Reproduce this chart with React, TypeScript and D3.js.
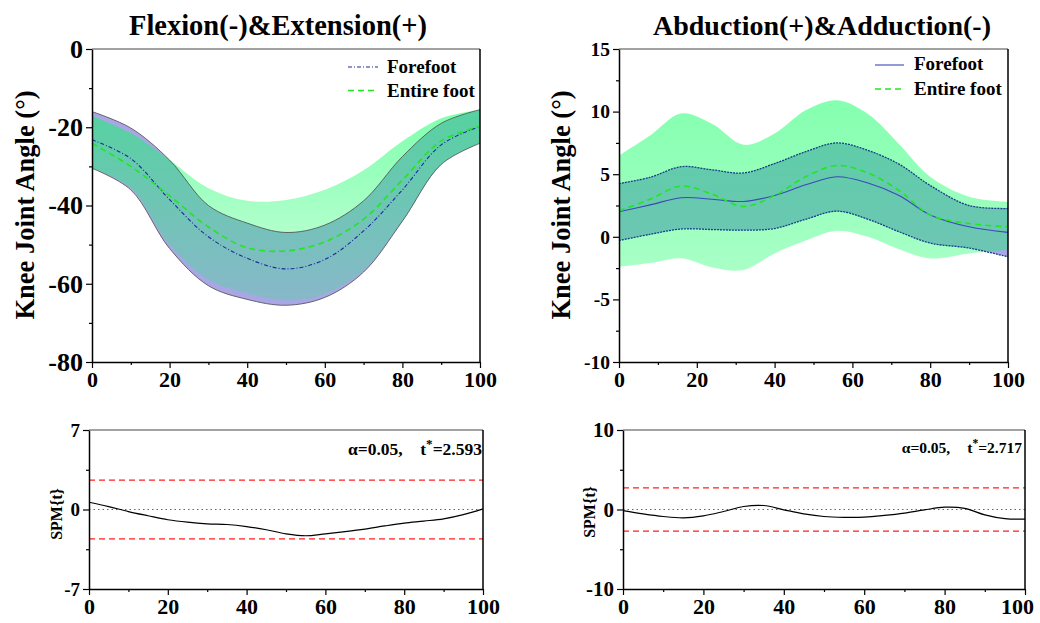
import { useEffect, useRef } from 'react';
import * as d3 from 'd3';

const FONT = '"Liberation Serif", "Times New Roman", serif';

// Flexion / extension (top left), % gait cycle
const flexT = [0, 10, 20, 30, 40, 50, 60, 70, 80, 90, 100];
const flexForeMean = [-23.2, -28, -38.5, -48, -53.5, -56.2, -53.8, -46.5, -36, -24.5, -19.8];
const flexForeUpper = [-16, -20.2, -28.4, -40, -44.5, -46.9, -45, -38.8, -27.5, -19, -15.5];
const flexForeLower = [-30.5, -36, -51, -60.5, -64, -65.5, -63.5, -57, -44, -29.5, -24.1];
const flexEntireMean = [-24.1, -30, -37.5, -45.5, -50.8, -51.6, -49.3, -43.5, -33.5, -23.5, -19.8];
const flexEntireUpper = [-17.1, -21.5, -28.4, -35.6, -38.8, -38.6, -36, -31, -23.6, -17.7, -15.5];
const flexEntireLower = [-30.5, -35.5, -50, -59, -62.5, -64.3, -62.7, -56.5, -44, -29.5, -24.1];

// Abduction / adduction (top right)
const abdT = [0, 8, 16, 24, 32, 40, 48, 56, 64, 72, 80, 90, 100];
const abdForeMean = [2.0, 2.55, 3.12, 3.0, 2.82, 3.3, 4.15, 4.8, 4.3, 3.3, 1.75, 0.8, 0.35];
const abdForeUpper = [4.25, 4.75, 5.6, 5.35, 5.1, 5.85, 6.8, 7.5, 6.9, 5.8, 4.1, 2.5, 2.26];
const abdForeLower = [-0.3, 0.2, 0.62, 0.58, 0.53, 0.66, 1.4, 2.05, 1.4, 0.4, -0.5, -0.9, -1.6];
const abdEntireMean = [2.07, 3.0, 4.05, 3.4, 2.42, 3.3, 4.8, 5.7, 5.1, 3.7, 1.75, 1.06, 0.8];
const abdEntireUpper = [6.5, 8.1, 9.85, 9.0, 7.35, 8.25, 10.1, 10.9, 9.8, 7.4, 4.8, 3.2, 2.8];
const abdEntireLower = [-2.4, -2.1, -1.72, -2.45, -2.65, -1.33, -0.3, 0.48, 0.0, -1.0, -1.73, -1.33, -1.06];

// SPM{t} curves
const spmT = [0, 5, 10, 15, 20, 25, 30, 35, 40, 45, 50, 55, 60, 65, 70, 75, 80, 85, 90, 95, 100];
const spmFlex = [0.64, 0.26, -0.18, -0.55, -0.9, -1.12, -1.26, -1.32, -1.5, -1.78, -2.14, -2.31, -2.14, -1.95, -1.73, -1.45, -1.2, -1.02, -0.82, -0.45, 0.06];
const spmAbd = [-0.13, -0.55, -0.88, -1.05, -0.8, -0.25, 0.38, 0.5, -0.04, -0.55, -0.88, -0.98, -0.96, -0.75, -0.46, -0.05, 0.29, 0.15, -0.67, -1.15, -1.21];
const tStarFlex = 2.593;
const tStarAbd = 2.717;

// ticks
const xTicks = [0, 20, 40, 60, 80, 100];
const xMinor = [10, 30, 50, 70, 90];
const flexYTicks = [0, -20, -40, -60, -80];
const flexYMinor = [-10, -30, -50, -70];
const abdYTicks = [15, 10, 5, 0, -5, -10];
const abdYMinor = [12.5, 7.5, 2.5, -2.5, -7.5];
const spmFlexTicks = [7, 0, -7];
const spmFlexMinor = [3.5, -3.5];
const spmAbdTicks = [10, 0, -10];
const spmAbdMinor = [5, -5];

const legendLabels = ['Forefoot', 'Entire foot'];

const curve = d3.curveCatmullRom.alpha(0.5);

function styleAxis(g, size) {
  g.select('.domain').attr('stroke-width', 1.5);
  g.selectAll('.tick line').attr('stroke-width', 1.2);
  g.selectAll('.tick text')
    .attr('font-size', size)
    .attr('font-weight', 'bold')
    .attr('font-family', FONT)
    .attr('fill', '#000');
}

function drawAxes(svg, x, y, yTicks, yMinor, ySize, xSize, lastShift = 0) {
  const [x0, x1] = x.range();
  const [y0, y1] = y.range();
  const fmt = d => String(d);

  svg.append('g')
    .attr('transform', `translate(0,${y0})`)
    .call(d3.axisBottom(x).tickValues(xMinor).tickSize(3).tickSizeOuter(0).tickFormat(() => ''))
    .call(g => { g.select('.domain').remove(); g.selectAll('.tick line').attr('stroke-width', 1.2); });
  svg.append('g')
    .attr('transform', `translate(${x0},0)`)
    .call(d3.axisLeft(y).tickValues(yMinor).tickSize(3).tickSizeOuter(0).tickFormat(() => ''))
    .call(g => { g.select('.domain').remove(); g.selectAll('.tick line').attr('stroke-width', 1.2); });

  svg.append('g')
    .attr('transform', `translate(0,${y0})`)
    .call(d3.axisBottom(x).tickValues(xTicks).tickSize(6).tickSizeOuter(0).tickPadding(3).tickFormat(fmt))
    .call(g => styleAxis(g, xSize))
    .call(g => g.selectAll('.tick text').filter(d => d === 100).attr('x', -lastShift));
  svg.append('g')
    .attr('transform', `translate(${x0},0)`)
    .call(d3.axisLeft(y).tickValues(yTicks).tickSize(6).tickSizeOuter(0).tickPadding(3).tickFormat(fmt))
    .call(g => styleAxis(g, ySize));

  // frame
  svg.append('line')
    .attr('x1', x0).attr('x2', x1).attr('y1', y1).attr('y2', y1)
    .attr('stroke', '#444').attr('stroke-width', 1);
  svg.append('line')
    .attr('x1', x1).attr('x2', x1).attr('y1', y1).attr('y2', y0)
    .attr('stroke', '#000').attr('stroke-width', 1.5);
}

function boldText(svg, x, y, txt, size, anchor = 'middle') {
  return svg.append('text')
    .attr('x', x).attr('y', y)
    .attr('text-anchor', anchor)
    .attr('font-family', FONT)
    .attr('font-weight', 'bold')
    .attr('font-size', size)
    .attr('fill', '#000')
    .text(txt);
}

function rotText(svg, x, y, txt, size) {
  svg.append('text')
    .attr('transform', `translate(${x},${y}) rotate(-90)`)
    .attr('text-anchor', 'middle')
    .attr('font-family', FONT)
    .attr('font-weight', 'bold')
    .attr('font-size', size)
    .attr('fill', '#000')
    .text(txt);
}

function greenGradient(defs, id, top, bottom) {
  const grad = defs.append('linearGradient')
    .attr('id', id)
    .attr('x1', 0).attr('y1', 0).attr('x2', 0).attr('y2', 1);
  grad.append('stop').attr('offset', 0).attr('stop-color', '#00ff5a').attr('stop-opacity', top);
  grad.append('stop').attr('offset', 1).attr('stop-color', '#00ff5a').attr('stop-opacity', bottom);
}

function bandPanel(svg, cfg) {
  const x = d3.scaleLinear().domain([0, 100]).range(cfg.xr);
  const y = d3.scaleLinear().domain(cfg.yd).range(cfg.yr);
  const idx = d3.range(cfg.t.length);

  const area = (lo, hi) => d3.area()
    .x(i => x(cfg.t[i]))
    .y0(i => y(lo[i]))
    .y1(i => y(hi[i]))
    .curve(curve)(idx);
  const line = vals => d3.line()
    .x(i => x(cfg.t[i]))
    .y(i => y(vals[i]))
    .curve(curve)(idx);

  svg.append('path').attr('d', area(cfg.foreLower, cfg.foreUpper)).attr('fill', '#aaa6e6');
  svg.append('path').attr('d', area(cfg.entireLower, cfg.entireUpper)).attr('fill', `url(#${cfg.grad})`);

  [cfg.foreUpper, cfg.foreLower].forEach(v => {
    svg.append('path').attr('d', line(v))
      .attr('fill', 'none')
      .attr('stroke', cfg.edgeColor)
      .attr('stroke-width', cfg.edgeWidth)
      .attr('stroke-dasharray', cfg.edgeDash);
  });

  svg.append('path').attr('d', line(cfg.foreMean))
    .attr('fill', 'none').attr('stroke', cfg.foreColor).attr('stroke-width', 1.1)
    .attr('stroke-dasharray', cfg.foreDash);
  svg.append('path').attr('d', line(cfg.entireMean))
    .attr('fill', 'none').attr('stroke', '#22e622').attr('stroke-width', 1.6)
    .attr('stroke-dasharray', '6,4');

  drawAxes(svg, x, y, cfg.yTicks, cfg.yMinor, cfg.ySize, 22);

  // legend
  const lg = cfg.legend;
  const styles = [
    { stroke: cfg.foreColor, dash: cfg.foreDash, w: 1.1 },
    { stroke: '#22e622', dash: '6,4', w: 1.6 },
  ];
  legendLabels.forEach((lab, i) => {
    svg.append('line')
      .attr('x1', lg.x).attr('x2', lg.x + lg.len)
      .attr('y1', lg.lineY[i]).attr('y2', lg.lineY[i])
      .attr('stroke', styles[i].stroke)
      .attr('stroke-width', styles[i].w)
      .attr('stroke-dasharray', styles[i].dash);
    boldText(svg, lg.textX, lg.textY[i], lab, 19, 'start');
  });
}

function spmPanel(svg, cfg) {
  const x = d3.scaleLinear().domain([0, 100]).range(cfg.xr);
  const y = d3.scaleLinear().domain(cfg.yd).range(cfg.yr);
  const [x0, x1] = cfg.xr;

  svg.append('line')
    .attr('x1', x0).attr('x2', x1).attr('y1', y(0)).attr('y2', y(0))
    .attr('stroke', '#666').attr('stroke-width', 1).attr('stroke-dasharray', '1.5,3');
  [cfg.tStar, -cfg.tStar].forEach(v => {
    svg.append('line')
      .attr('x1', x0).attr('x2', x1).attr('y1', y(v)).attr('y2', y(v))
      .attr('stroke', '#ff2020').attr('stroke-width', 1.2).attr('stroke-dasharray', '6,4');
  });

  const idx = d3.range(spmT.length);
  svg.append('path')
    .attr('d', d3.line().x(i => x(spmT[i])).y(i => y(cfg.vals[i])).curve(curve)(idx))
    .attr('fill', 'none').attr('stroke', '#000').attr('stroke-width', 1.2);

  drawAxes(svg, x, y, cfg.yTicks, cfg.yMinor, cfg.ySize, 22, cfg.lastShift || 0);

  const t = boldText(svg, cfg.annX, cfg.annY, '', cfg.annSize, 'end');
  t.append('tspan').text('α=0.05,');
  t.append('tspan').attr('dx', cfg.annSize * cfg.annGap).text('t');
  t.append('tspan').attr('dy', -cfg.annSize * 0.4).attr('font-size', cfg.annSize * 0.75).text('*');
  t.append('tspan').attr('dy', cfg.annSize * 0.4).text('=' + cfg.tStar.toFixed(3));
}

const App = () => {
  const svgRef = useRef(null);

  useEffect(() => {
    const svg = d3.select(svgRef.current);
    svg.selectAll('*').remove();
    const defs = svg.append('defs');
    greenGradient(defs, 'gradFlex', 0.5, 0.2);
    greenGradient(defs, 'gradAbd', 0.48, 0.34);

    bandPanel(svg, {
      xr: [92, 480], yr: [362, 49], yd: [-80, 0],
      t: flexT,
      foreMean: flexForeMean, foreUpper: flexForeUpper, foreLower: flexForeLower,
      entireMean: flexEntireMean, entireUpper: flexEntireUpper, entireLower: flexEntireLower,
      grad: 'gradFlex',
      edgeColor: '#4a4a4a', edgeWidth: 0.8, edgeDash: null,
      foreColor: '#1c2a9c', foreDash: '4,2,1,2',
      yTicks: flexYTicks, yMinor: flexYMinor, ySize: 26,
      legend: { x: 348, len: 30, lineY: [67, 90.5], textX: 387, textY: [73, 97] },
    });

    bandPanel(svg, {
      xr: [619, 1008], yr: [362, 49], yd: [-10, 15],
      t: abdT,
      foreMean: abdForeMean, foreUpper: abdForeUpper, foreLower: abdForeLower,
      entireMean: abdEntireMean, entireUpper: abdEntireUpper, entireLower: abdEntireLower,
      grad: 'gradAbd',
      edgeColor: '#163c8a', edgeWidth: 1.3, edgeDash: '2,1',
      foreColor: '#3a4ab8', foreDash: null,
      yTicks: abdYTicks, yMinor: abdYMinor, ySize: 19.5,
      legend: { x: 875, len: 29, lineY: [65, 89], textX: 914, textY: [70, 95] },
    });

    spmPanel(svg, {
      xr: [89, 483], yr: [589, 430], yd: [-7, 7],
      vals: spmFlex, tStar: tStarFlex,
      yTicks: spmFlexTicks, yMinor: spmFlexMinor, ySize: 19,
      annX: 482, annY: 455, annSize: 17.5, annGap: 1.0,
    });

    spmPanel(svg, {
      xr: [623, 1025], yr: [589, 430], yd: [-10, 10],
      vals: spmAbd, tStar: tStarAbd,
      yTicks: spmAbdTicks, yMinor: spmAbdMinor, ySize: 21,
      annX: 1022, annY: 453, annSize: 15.5, annGap: 1.1,
      lastShift: 8,
    });

    // titles and axis labels
    boldText(svg, 278, 35, 'Flexion(-)&Extension(+)', 28.5);
    boldText(svg, 822, 35, 'Abduction(+)&Adduction(-)', 28);
    rotText(svg, 34, 205, 'Knee Joint Angle (°)', 26.5);
    rotText(svg, 570, 205, 'Knee Joint Angle (°)', 26.5);
    rotText(svg, 62, 514, 'SPM{t}', 16);
    rotText(svg, 595, 512, 'SPM{t}', 16);
  }, []);

  return (
    <svg
      ref={svgRef}
      width={1040}
      height={623}
      style={{ position: 'absolute', left: 0, top: 0, background: '#fff' }}
    />
  );
};

export default App;
